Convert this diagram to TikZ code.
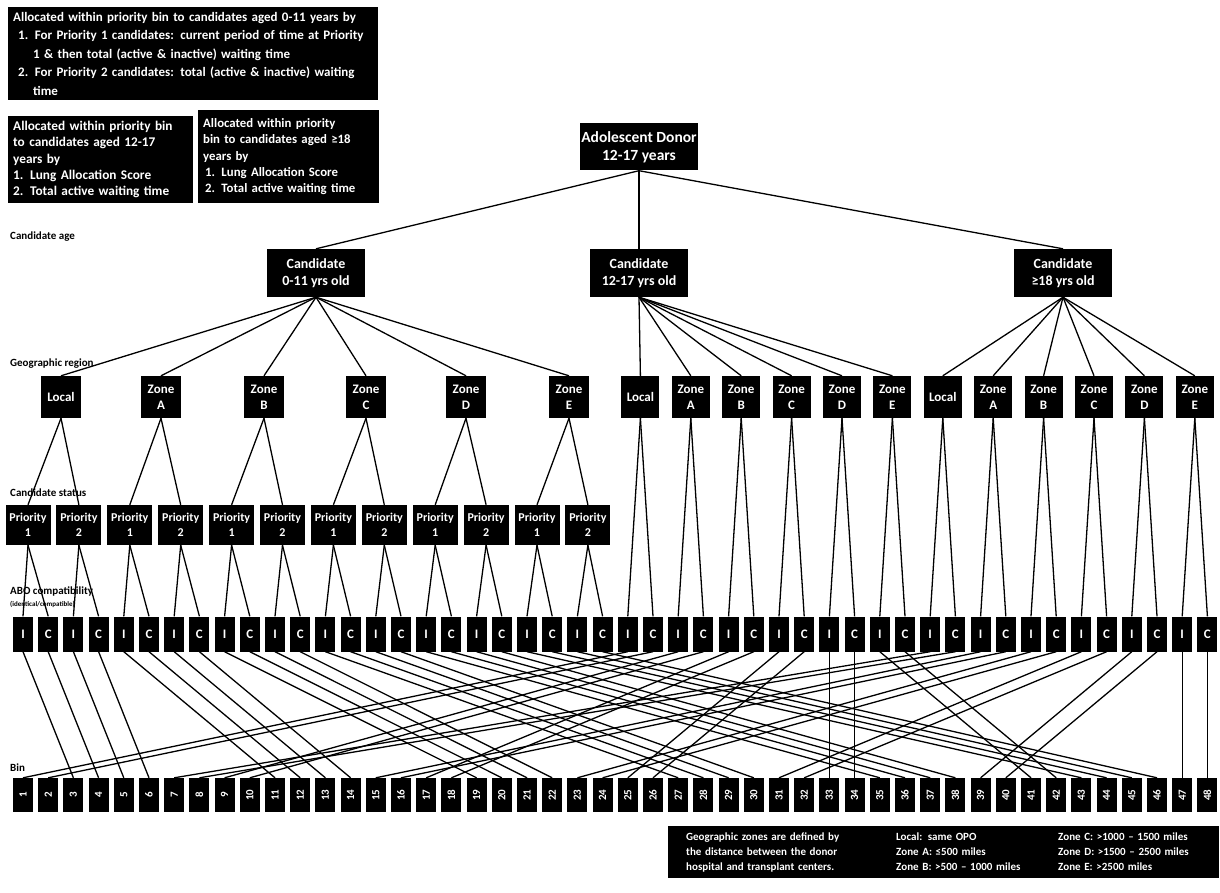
\documentclass[tikz,border=0pt]{standalone}
\usepackage{fontspec}
\setmainfont{Carlito}
\begin{document}
\begin{tikzpicture}[x=1pt,y=-1pt,
  blk/.style={fill=black,text=white,font=\bfseries,inner sep=1pt,align=center},
  note/.style={blk,align=left,inner xsep=6pt,inner ysep=3pt},
  donorbox/.style={blk,font=\bfseries\fontsize{15.5}{18}\selectfont,minimum width=118pt,minimum height=47pt},
  candbox/.style={blk,font=\bfseries\fontsize{14}{17}\selectfont,minimum width=98pt,minimum height=48pt},
  zonebox/.style={blk,font=\bfseries\fontsize{13}{16}\selectfont,minimum width=40pt,minimum height=42pt},
  priobox/.style={blk,font=\bfseries\fontsize{12}{15}\selectfont,minimum width=45pt,minimum height=40pt,inner sep=0pt},
  abobox/.style={blk,font=\bfseries\fontsize{13}{15}\selectfont,minimum width=20pt,minimum height=35pt,inner sep=0pt},
  binbox/.style={blk,font=\bfseries\fontsize{11}{13}\selectfont,minimum width=20pt,minimum height=34pt,inner sep=0pt},
  rowlabel/.style={anchor=west,font=\bfseries\fontsize{11}{13}\selectfont,inner sep=0pt},
  link/.style={draw=black,line width=1.3pt}]
\useasboundingbox (0,0) rectangle (1220,893);

% allocation rules within a bin
\node[note,anchor=north west,minimum width=370pt,minimum height=93pt,text width=360pt,inner xsep=5pt,
  font=\bfseries\fontsize{13}{18.5}\selectfont] (ruleyoung) at (8,7)
 {Allocated within priority bin to candidates aged 0-11 years by\\
  \hspace*{5pt}1. For Priority 1 candidates: current period of time at Priority\\
  \hspace*{20pt}1 \& then total (active \& inactive) waiting time\\
  \hspace*{5pt}2. For Priority 2 candidates: total (active \& inactive) waiting\\
  \hspace*{20pt}time};
\node[note,anchor=north west,minimum width=185pt,minimum height=87pt,text width=175pt,inner xsep=5pt,
  font=\bfseries\fontsize{13.3}{16.3}\selectfont] (ruleteen) at (8,116)
 {Allocated within priority bin\\to candidates aged 12-17\\years by\\1. Lung Allocation Score\\2. Total active waiting time};
\node[note,anchor=north west,minimum width=181pt,minimum height=93pt,text width=171pt,inner xsep=5pt,
  font=\bfseries\fontsize{12.8}{16.3}\selectfont] (ruleadult) at (198,110)
 {Allocated within priority\\bin to candidates aged ≥18\\years by\\\hspace*{2pt}1. Lung Allocation Score\\\hspace*{2pt}2. Total active waiting time};

% level labels
\node[rowlabel] (lblage) at (10,237) {Candidate age};
\node[rowlabel] (lblgeo) at (10,364) {Geographic region};
\node[rowlabel] (lblstatus) at (10,493) {Candidate status};
\node[rowlabel] (lblabo) at (10,591) {ABO compatibility};
\node[rowlabel,font=\bfseries\fontsize{7}{8}\selectfont] (lblabosub) at (10,604) {(identical/compatible)};
\node[rowlabel] (lblbin) at (10,768) {Bin};

% donor and candidate age groups
\node[donorbox] (donor) at (639,147) {Adolescent Donor\\12-17 years};
\node[candbox] (cyoung) at (316,273) {Candidate\\0-11 yrs old};
\node[candbox] (cteen) at (639,273) {Candidate\\12-17 yrs old};
\node[candbox] (cadult) at (1063,273) {Candidate\\≥18 yrs old};
\foreach \c in {cyoung,cteen,cadult} \draw[link] (donor.south) -- (\c.north);

% ABO row and bins
\foreach \j in {1,...,48} {
  \node[abobox] (abo\j) at ({23+(\j-1)*25.2},634) {\ifodd\j I\else C\fi};
  \node[binbox] (bin\j) at ({23+(\j-1)*25.2},795) {\rotatebox{90}{\j}};
}

% 0-11 years: region, then priority status
\foreach \z/\x/\t in {0/61/Local,1/161/Zone\\A,2/264/Zone\\B,3/366/Zone\\C,4/466/Zone\\D,5/569/Zone\\E} {
  \node[zonebox] (zy\z) at (\x,397) {\t};
  \draw[link] (cyoung.south) -- (zy\z.north);
}
\foreach \p in {1,...,12} {
  \pgfmathtruncatemacro{\lvl}{mod(\p-1,2)+1}
  \pgfmathtruncatemacro{\zz}{(\p-1)/2}
  \node[priobox] (pr\p) at ({28+(\p-1)*50.9},525) {Priority\\\lvl};
  \draw[link] (zy\zz.south) -- (pr\p.north);
  \pgfmathtruncatemacro{\ja}{2*\p-1}
  \pgfmathtruncatemacro{\jb}{2*\p}
  \draw[link] (pr\p.south) -- (abo\ja.north);
  \draw[link] (pr\p.south) -- (abo\jb.north);
}

% 12-17 and >=18 years: region straight to ABO
\foreach \z/\t in {0/Local,1/Zone\\A,2/Zone\\B,3/Zone\\C,4/Zone\\D,5/Zone\\E} {
  \node[zonebox,minimum width=38pt] (zt\z) at ({23+25.2*(24.5+2*\z)},397) {\t};
  \node[zonebox,minimum width=38pt] (za\z) at ({23+25.2*(36.5+2*\z)},397) {\t};
  \draw[link] (cteen.south) -- (zt\z.north);
  \draw[link] (cadult.south) -- (za\z.north);
  \pgfmathtruncatemacro{\ja}{25+2*\z}
  \pgfmathtruncatemacro{\jb}{26+2*\z}
  \draw[link] (zt\z.south) -- (abo\ja.north);
  \draw[link] (zt\z.south) -- (abo\jb.north);
  \pgfmathtruncatemacro{\ja}{37+2*\z}
  \pgfmathtruncatemacro{\jb}{38+2*\z}
  \draw[link] (za\z.south) -- (abo\ja.north);
  \draw[link] (za\z.south) -- (abo\jb.north);
}

% ABO group -> bin
\foreach \j in {1,...,48} {
  \ifnum\j<25
    \pgfmathtruncatemacro{\k}{8*floor((\j-1)/4)+3+2*mod(floor((\j-1)/2),2)+mod(\j-1,2)}
  \else\ifnum\j<37
    \pgfmathtruncatemacro{\k}{8*floor((\j-25)/2)+1+mod(\j-25,2)}
  \else
    \pgfmathtruncatemacro{\k}{8*floor((\j-37)/2)+7+mod(\j-37,2)}
  \fi\fi
  \draw[link] (abo\j.south) -- (bin\k.north);
}

% zone distances
\node[blk,anchor=north west,minimum width=550pt,minimum height=52pt,align=left,
  text width=515pt,inner xsep=18pt,
  font=\bfseries\fontsize{11}{15}\selectfont] (legend) at (668,826)
 {\begin{tabular}{@{}p{198pt}p{150pt}l@{}}
  Geographic zones are defined by & Local: same OPO & Zone C: \textgreater1000 -- 1500 miles\\
  the distance between the donor & Zone A: ≤500 miles & Zone D: \textgreater1500 -- 2500 miles\\
  hospital and transplant centers. & Zone B: \textgreater500 -- 1000 miles & Zone E: \textgreater2500 miles
  \end{tabular}};
\end{tikzpicture}
\end{document}
